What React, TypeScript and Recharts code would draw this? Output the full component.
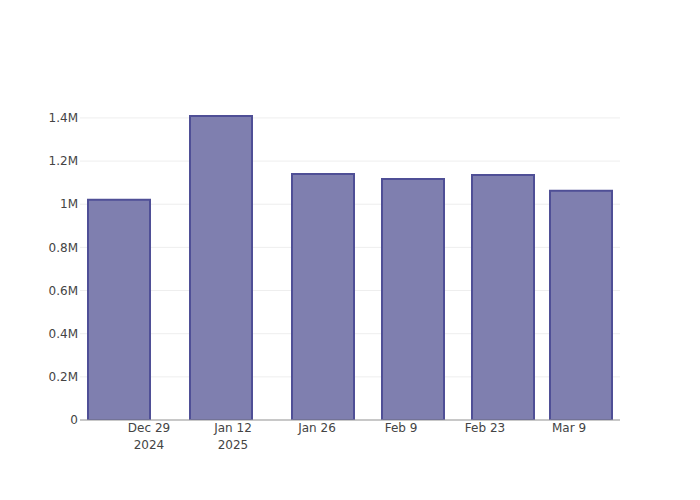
import { BarChart, Bar, XAxis, YAxis, CartesianGrid } from 'recharts';

// weekly totals, bars placed on a date axis
const barDates = ['2024-12-24', '2025-01-10', '2025-01-27', '2025-02-11', '2025-02-26', '2025-03-11'];
const barValues = [1021000, 1409000, 1140000, 1117000, 1136000, 1062000];

const tickDates = ['2024-12-29', '2025-01-12', '2025-01-26', '2025-02-09', '2025-02-23', '2025-03-09'];
const tickLabels = ['Dec 29\n2024', 'Jan 12\n2025', 'Jan 26', 'Feb 9', 'Feb 23', 'Mar 9'];

const yTicks = [0, 200000, 400000, 600000, 800000, 1000000, 1200000, 1400000];

const DAY = 86400000;
const toMs = (d: string) => Date.parse(d + 'T00:00:00Z');

const data = barDates.map((d, i) => ({ t: toMs(d), value: barValues[i] }));
const xTicks = tickDates.map(toMs);
const xDomain = [toMs('2024-12-29') - 11.5 * DAY, toMs('2024-12-29') + 78.5 * DAY];

const FONT = '"DejaVu Sans", Verdana, sans-serif';

const fmtY = (v: number) => (v === 0 ? '0' : `${+(v / 1e6).toFixed(1)}M`);

function XTick({ x, y, payload }: any) {
  const idx = xTicks.indexOf(payload.value);
  const lines = (tickLabels[idx] ?? '').split('\n');
  return (
    <text x={x} y={y} textAnchor="middle" fill="#444" fontSize={12} fontFamily={FONT}>
      {lines.map((line, i) => (
        <tspan key={i} x={x} dy={i === 0 ? 12 : 17}>
          {line}
        </tspan>
      ))}
    </text>
  );
}

export default function App() {
  return (
    <div style={{ position: 'absolute', left: 0, top: 0, width: 700, height: 500, background: '#fff' }}>
      <BarChart
        width={700}
        height={500}
        data={data}
        margin={{ top: 100, right: 80, bottom: 50, left: 0 }}
      >
        <CartesianGrid stroke="#eee" vertical={false} syncWithTicks />
        <XAxis
          dataKey="t"
          type="number"
          domain={xDomain}
          ticks={xTicks}
          allowDataOverflow
          height={30}
          tickSize={0}
          tickMargin={0}
          tickLine={false}
          axisLine={{ stroke: '#999', strokeWidth: 1 }}
          tick={<XTick />}
          interval={0}
        />
        <YAxis
          type="number"
          domain={[0, 1483000]}
          ticks={yTicks}
          width={80}
          tickSize={0}
          tickMargin={2}
          axisLine={false}
          tickLine={false}
          tickFormatter={fmtY}
          tick={{ fill: '#444', fontSize: 12, fontFamily: FONT }}
          allowDataOverflow
        />
        <Bar
          dataKey="value"
          barSize={62}
          fill="#7f7faf"
          stroke="#4f4f96"
          strokeWidth={2}
          isAnimationActive={false}
        />
      </BarChart>
    </div>
  );
}
